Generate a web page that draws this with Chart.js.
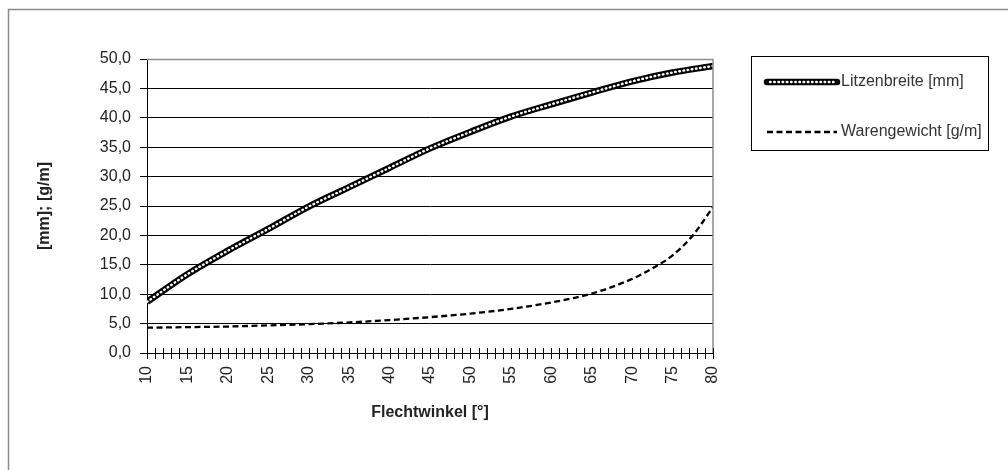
<!DOCTYPE html>
<html>
<head>
<meta charset="utf-8">
<script src="https://cdn.jsdelivr.net/npm/chart.js@4/dist/chart.umd.min.js"></script>
<style>
  html, body { margin: 0; padding: 0; background: #fff; }
  #wrap { width: 1008px; height: 470px; position: relative; }
</style>
</head>
<body>
<div id="wrap"><canvas id="c" width="1008" height="470"></canvas></div>
<script>
// ---- data ----
const xTitle = 'Flechtwinkel [°]';
const yTitle = '[mm]; [g/m]';
const seriesNames = ['Litzenbreite [mm]', 'Warengewicht [g/m]'];

const litzAngles = [10, 15, 20, 25, 30, 35, 40, 45, 50, 55, 60, 65, 70, 75, 80];
const litzenbreite = [8.7, 13.4, 17.4, 21.1, 24.9, 28.2, 31.5, 34.8, 37.6, 40.2, 42.3, 44.3, 46.2, 47.7, 48.8];

const wareAngles = [10, 15, 20, 25, 30, 35, 40, 45, 50, 55, 60, 65, 70, 72.5, 75, 77.5, 80];
const warengewicht = [4.3, 4.4, 4.5, 4.7, 4.9, 5.2, 5.6, 6.1, 6.7, 7.5, 8.6, 10.1, 12.6, 14.4, 16.6, 20.0, 24.8];

const xMin = 10, xMax = 80, xLabelStep = 5;
const yMin = 0, yMax = 50, yStep = 5;

const FONT = "'Liberation Sans', Arial, sans-serif";
const TEXT = '#222';

const litzPoints = litzAngles.map((a, i) => ({ x: a, y: litzenbreite[i] }));
const warePoints = wareAngles.map((a, i) => ({ x: a, y: warengewicht[i] }));

const framePlugin = {
  id: 'frame',
  beforeDraw(chart) {
    const ctx = chart.ctx;
    ctx.save();
    ctx.fillStyle = '#fff';
    ctx.fillRect(0, 0, chart.width, chart.height);
    ctx.strokeStyle = '#8c8c8c';
    ctx.lineWidth = 1.5;
    ctx.beginPath();
    ctx.moveTo(8.5, chart.height);
    ctx.lineTo(8.5, 9.5);
    ctx.lineTo(chart.width, 9.5);
    ctx.stroke();
    ctx.restore();
  },
  afterDraw(chart) {
    const ctx = chart.ctx;
    const a = chart.chartArea;
    const xs = chart.scales.x;
    ctx.save();
    // chart-area border (top & right, grey)
    ctx.strokeStyle = '#8c8c8c';
    ctx.lineWidth = 1.5;
    ctx.beginPath();
    ctx.moveTo(a.left, a.top + 0.5);
    ctx.lineTo(a.right, a.top + 0.5);
    ctx.lineTo(a.right, a.bottom);
    ctx.stroke();
    // crossing x tick marks at every unit
    ctx.strokeStyle = '#000';
    ctx.lineWidth = 1;
    ctx.beginPath();
    for (let v = xMin; v <= xMax; v++) {
      const px = Math.round(xs.getPixelForValue(v)) + 0.5;
      ctx.moveTo(px, a.bottom - 5);
      ctx.lineTo(px, a.bottom + 6);
    }
    ctx.stroke();
    // legend box
    const bx = 751.5, by = 56.5, bw = 237, bh = 94;
    ctx.strokeStyle = '#000';
    ctx.lineWidth = 1;
    ctx.strokeRect(bx, by, bw, bh);
    const lx0 = 767, lx1 = 837, y1 = 82, y2 = 132;
    // entry 1: thick black line with white dots
    ctx.lineCap = 'round';
    ctx.strokeStyle = '#000';
    ctx.lineWidth = 6.5;
    ctx.beginPath(); ctx.moveTo(lx0, y1); ctx.lineTo(lx1, y1); ctx.stroke();
    ctx.strokeStyle = '#fff';
    ctx.lineWidth = 2.4;
    ctx.lineCap = 'round';
    ctx.setLineDash([0.6, 3.6]);
    ctx.beginPath(); ctx.moveTo(lx0 + 3, y1); ctx.lineTo(lx1 - 3, y1); ctx.stroke();
    // entry 2: dashed
    ctx.lineCap = 'butt';
    ctx.strokeStyle = '#000';
    ctx.lineWidth = 2.3;
    ctx.setLineDash([6, 3.5]);
    ctx.beginPath(); ctx.moveTo(lx0, y2); ctx.lineTo(lx1, y2); ctx.stroke();
    ctx.setLineDash([]);
    ctx.fillStyle = '#333';
    ctx.font = '16px ' + FONT;
    ctx.textBaseline = 'middle';
    ctx.textAlign = 'left';
    ctx.fillText(seriesNames[0], 841, y1);
    ctx.fillText(seriesNames[1], 841, y2);
    ctx.restore();
  }
};

new Chart(document.getElementById('c'), {
  type: 'line',
  data: {
    datasets: [
      {
        label: seriesNames[0],
        data: litzPoints,
        borderColor: '#000',
        borderWidth: 6.5,
        pointRadius: 0,
        cubicInterpolationMode: 'monotone',
        fill: false,
        order: 2
      },
      {
        label: seriesNames[0] + ' ',
        data: litzPoints,
        borderColor: '#fff',
        borderWidth: 2.4,
        borderCapStyle: 'round',
        borderDash: [0.6, 3.6],
        pointRadius: 0,
        cubicInterpolationMode: 'monotone',
        fill: false,
        order: 1
      },
      {
        label: seriesNames[1],
        data: warePoints,
        borderColor: '#000',
        borderWidth: 2.3,
        borderDash: [6, 3.5],
        pointRadius: 0,
        cubicInterpolationMode: 'monotone',
        fill: false,
        order: 0
      }
    ]
  },
  options: {
    responsive: false,
    animation: false,
    events: [],
    layout: { padding: { top: 59, right: 295, left: 0, bottom: 0 } },
    plugins: { legend: { display: false }, tooltip: { enabled: false } },
    scales: {
      x: {
        type: 'linear',
        min: xMin, max: xMax,
        grid: { display: true, drawOnChartArea: false, drawTicks: false },
        border: { color: '#000', width: 1 },
        ticks: {
          stepSize: 1, autoSkip: false, maxRotation: 90, minRotation: 90,
          padding: 13, color: TEXT, font: { family: FONT, size: 16 },
          callback: v => (v % xLabelStep === 0 ? String(v) : '')
        },
        title: { display: true, text: xTitle, color: TEXT, font: { family: FONT, size: 16, weight: 'bold' }, padding: { top: 0, bottom: 48 } },
        afterFit: s => { s.height = 117; }
      },
      y: {
        min: yMin, max: yMax,
        grid: {
          color: ctx => (ctx.tick && ctx.tick.value === yMax ? '#8c8c8c' : '#000'),
          tickColor: '#000', lineWidth: 1, tickLength: 7
        },
        border: { color: '#000', width: 1 },
        ticks: {
          stepSize: yStep, padding: 9, color: TEXT, font: { family: FONT, size: 16 },
          callback: v => v.toFixed(1).replace('.', ',')
        },
        title: { display: true, text: yTitle, color: TEXT, font: { family: FONT, size: 16, weight: 'bold' }, padding: { top: 35, bottom: 0 } },
        afterFit: s => { s.width = 147; }
      }
    }
  },
  plugins: [framePlugin]
});
</script>
</body>
</html>
